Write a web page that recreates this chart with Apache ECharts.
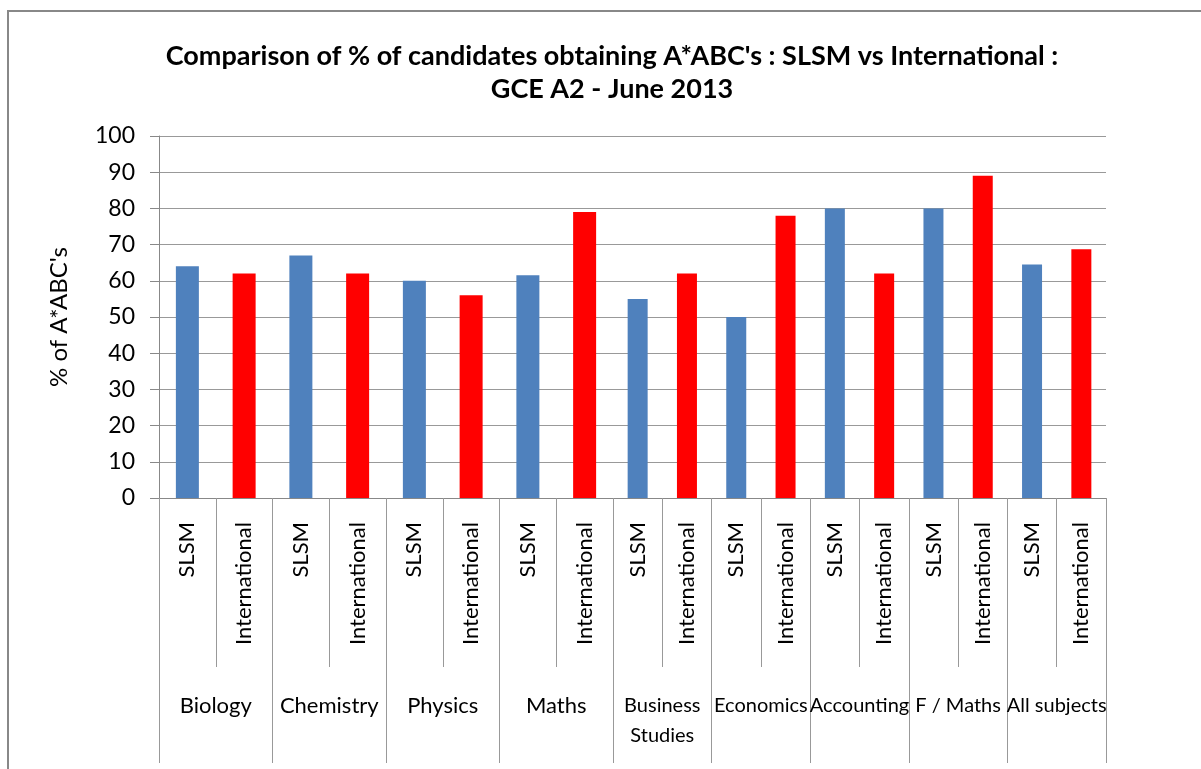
<!DOCTYPE html>
<html>
<head>
<meta charset="utf-8">
<script src="https://cdn.jsdelivr.net/npm/echarts@6/dist/echarts.min.js"></script>
<style>
  html, body { margin: 0; padding: 0; background: #fff; }
  #chart { width: 1201px; height: 769px; }
</style>
</head>
<body>
<div id="chart"></div>
<script>
// data
var subjects = ['Biology', 'Chemistry', 'Physics', 'Maths', 'Business\nStudies',
    'Economics', 'Accounting', 'F / Maths', 'All subjects'];
var groups = ['SLSM', 'International'];
var slsm = [64, 67, 60, 61.5, 55, 50, 80, 80, 64.5];
var international = [62, 62, 56, 79, 62, 78, 62, 89, 68.7];
var yTicks = [0, 10, 20, 30, 40, 50, 60, 70, 80, 90, 100];

var FONT = 'Lato, "Open Sans", sans-serif';

// the source picture is stretched unevenly: first 4 subjects are wider,
// so the plot is split into two grids sharing the same y scale
var SPLIT = 4;
var panels = [
    { left: 159, width: 454, barWidth: 23, labelSize: 22 },
    { left: 613, width: 493, barWidth: 20, labelSize: 20 }
];

function inner(from, to) {
    var cats = [], a = [], b = [];
    for (var i = from; i < to; i++) {
        cats.push(groups[0], groups[1]);
        a.push(slsm[i], null);
        b.push(null, international[i]);
    }
    return { cats: cats, slsm: a, intl: b };
}

var parts = [inner(0, SPLIT), inner(SPLIT, subjects.length)];
var outerCats = [subjects.slice(0, SPLIT), subjects.slice(SPLIT)];

var grid = [], xAxis = [], yAxis = [], series = [];

panels.forEach(function (p, k) {
    grid.push({ left: p.left, width: p.width, top: 136, bottom: 271 });
    xAxis.push({
        type: 'category',
        gridIndex: k,
        data: parts[k].cats,
        axisLine: { lineStyle: { color: '#888', width: 1 } },
        axisTick: { show: true, interval: 0, length: 169, lineStyle: { color: '#999' } },
        axisLabel: {
            interval: 0, rotate: 90, margin: 24, fontSize: 22,
            color: '#000', fontFamily: FONT
        }
    }, {
        type: 'category',
        gridIndex: k,
        data: outerCats[k],
        position: 'bottom',
        axisLine: { show: false },
        axisTick: { show: true, interval: 0, length: 265, lineStyle: { color: '#999' } },
        axisLabel: {
            interval: 0, margin: 193, fontSize: p.labelSize, lineHeight: 30,
            color: '#000', fontFamily: FONT
        }
    });
    yAxis.push({
        type: 'value',
        gridIndex: k,
        min: yTicks[0],
        max: yTicks[yTicks.length - 1],
        interval: 10,
        name: k === 0 ? "% of A*ABC's" : '',
        nameLocation: 'middle',
        nameGap: 88,
        nameTextStyle: { fontSize: 24, color: '#000', fontFamily: FONT },
        axisLine: { show: k === 0, lineStyle: { color: '#888' } },
        axisTick: { show: k === 0, length: 9, lineStyle: { color: '#888' } },
        axisLabel: { show: k === 0, fontSize: 23, color: '#000', margin: 24, fontFamily: FONT },
        splitLine: { lineStyle: { color: '#999', width: 1 } }
    });
    series.push({
        name: 'SLSM',
        type: 'bar',
        xAxisIndex: k * 2,
        yAxisIndex: k,
        data: parts[k].slsm,
        barWidth: p.barWidth,
        barGap: '-100%',
        itemStyle: { color: '#4f81bd' }
    }, {
        name: 'International',
        type: 'bar',
        xAxisIndex: k * 2,
        yAxisIndex: k,
        data: parts[k].intl,
        barWidth: p.barWidth,
        barGap: '-100%',
        itemStyle: { color: '#ff0000' }
    });
});

var chart = echarts.init(document.getElementById('chart'));

chart.setOption({
    animation: false,
    backgroundColor: '#fff',
    textStyle: { fontFamily: FONT },
    title: {
        text: "Comparison of % of candidates obtaining A*ABC's : SLSM vs International :\nGCE A2 - June 2013",
        left: 607,
        top: 35,
        textAlign: 'center',
        textStyle: {
            fontFamily: FONT,
            fontSize: 27,
            fontWeight: 'bold',
            color: '#000',
            lineHeight: 33
        }
    },
    graphic: [{
        type: 'rect',
        shape: { x: 8, y: 11, width: 1300, height: 900 },
        style: { fill: null, stroke: '#888', lineWidth: 2 },
        silent: true
    }],
    grid: grid,
    xAxis: xAxis,
    yAxis: yAxis,
    series: series
});
</script>
</body>
</html>
